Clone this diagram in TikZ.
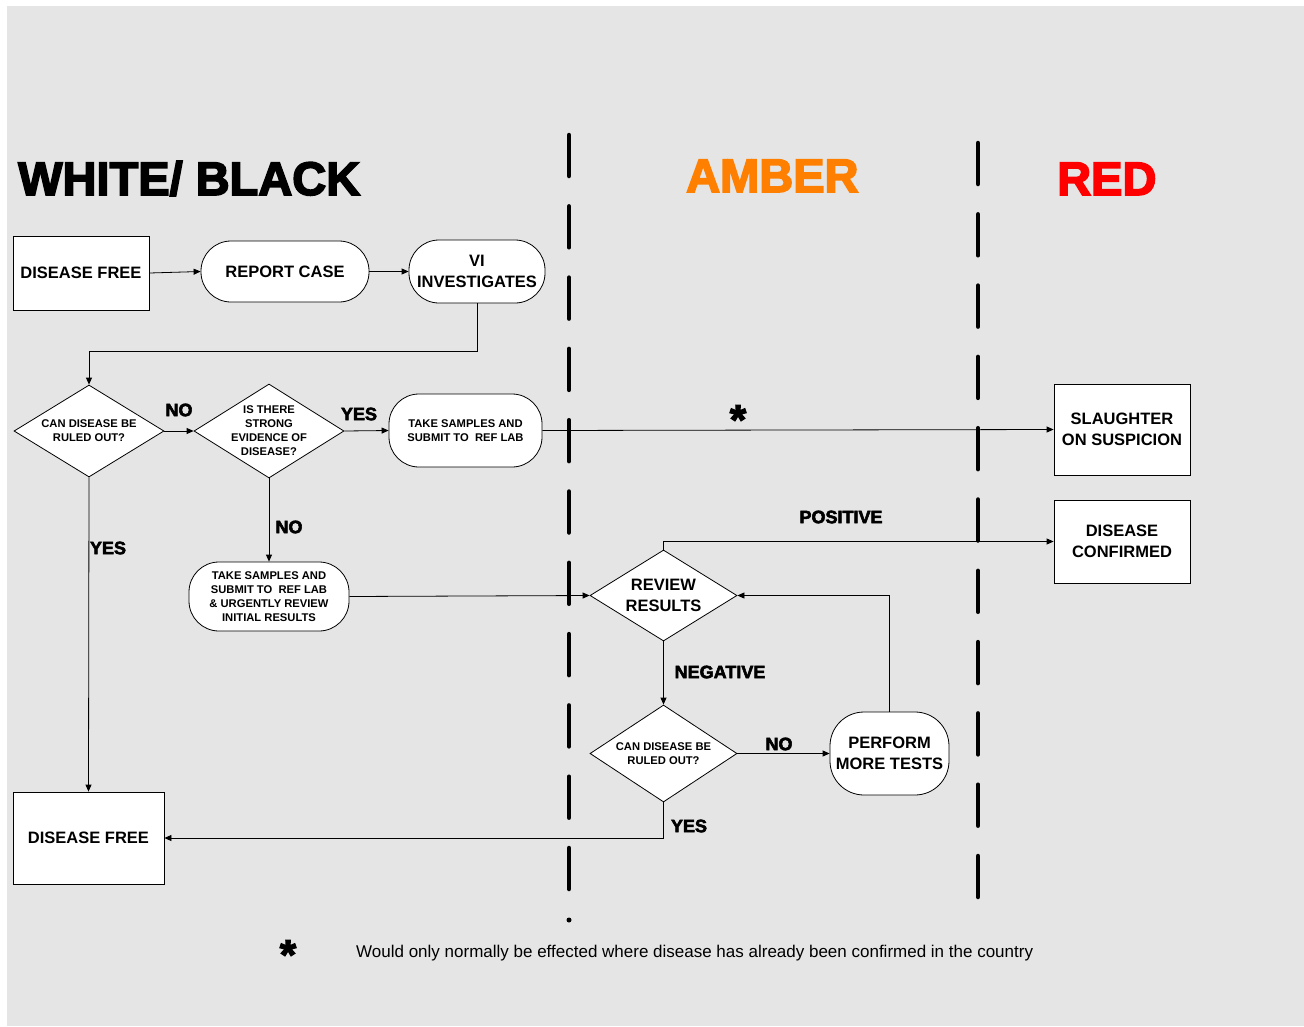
\documentclass[tikz,border=0pt]{standalone}
\usepackage{fontspec}
\setmainfont{Liberation Sans}
\newfontfamily\heavy{Liberation Sans}[BoldFeatures={FakeBold=3}]
\newfontfamily\heavytitle{Liberation Sans}[BoldFeatures={FakeBold=3.5}]
\usetikzlibrary{shapes.geometric,arrows.meta}
\definecolor{bgc}{HTML}{E5E5E5}
\definecolor{ambc}{HTML}{FF8000}
\begin{document}
\begin{tikzpicture}[x=1pt,y=-1pt,
  box/.style={draw, fill=white, line width=0.8pt, inner sep=0pt, align=center,
    font=\bfseries\fontsize{16.5}{21}\selectfont},
  pill/.style={box, rounded corners=30pt},
  dec/.style={draw, fill=white, diamond, inner sep=0pt, line width=0.8pt},
  small/.style={font=\bfseries\fontsize{11.2}{14}\selectfont, align=center, inner sep=0pt},
  big/.style={font=\bfseries\fontsize{16.5}{21}\selectfont, align=center, inner sep=0pt},
  lab/.style={font=\heavy\bfseries\fontsize{18}{20}\selectfont, inner sep=0pt},
  ttl/.style={font=\heavytitle\bfseries\fontsize{47}{50}\selectfont, inner sep=0pt, anchor=base west},
  astk/.style={font=\heavy\bfseries\fontsize{42}{42}\selectfont, inner sep=0pt, anchor=north},
  conn/.style={line width=0.8pt, -{Triangle[length=7pt,width=6pt]}},
  divider/.style={line width=4.5pt, line cap=round, dash pattern=on 41pt off 30.3pt}
]
\useasboundingbox (0,0) rectangle (1304,1026);
\fill[bgc] (7,6) rectangle (1304,1026);

% dividers
\draw[divider] (569,135) -- (569,893);
\fill (569,920) circle (2.5pt);
\draw[divider] (978,143) -- (978,900);

% titles
\node[ttl] (tw) at (18,195) {WHITE/ BLACK};
\node[ttl, text=ambc] (ta) at (686,192) {AMBER};
\node[ttl, text=red] (tr) at (1057,195) {RED};

% nodes
\node[box, minimum width=136pt, minimum height=74pt] (df1) at (81,273) {DISEASE FREE};
\node[pill, minimum width=168pt, minimum height=61pt] (rc) at (285,271.5) {REPORT CASE};
\node[pill, minimum width=136pt, minimum height=63pt] (vi) at (477,271.5) {VI\\INVESTIGATES};
\node[dec, minimum width=150pt, minimum height=92pt,
  label={[small]center:{CAN DISEASE BE\\RULED OUT?}}] (d1) at (89,431) {};
\node[dec, minimum width=150pt, minimum height=94pt,
  label={[small]center:{IS THERE\\STRONG\\EVIDENCE OF\\DISEASE?}}] (d2) at (269,431) {};
\node[pill, font=\bfseries\fontsize{11.2}{14}\selectfont, minimum width=153pt, minimum height=73pt]
  (ts1) at (465.5,430.5) {TAKE SAMPLES AND\\SUBMIT TO\ \ REF LAB};
\node[box, minimum width=136pt, minimum height=91pt] (sl) at (1122,429.5) {SLAUGHTER\\ON SUSPICION};
\node[box, minimum width=136pt, minimum height=83pt] (dc) at (1122,541.5) {DISEASE\\CONFIRMED};
\node[pill, font=\bfseries\fontsize{11.2}{14}\selectfont, minimum width=160pt, minimum height=69pt]
  (ts2) at (269,596.5) {TAKE SAMPLES AND\\SUBMIT TO\ \ REF LAB\\\& URGENTLY REVIEW\\INITIAL RESULTS};
\node[dec, minimum width=147pt, minimum height=91pt,
  label={[big]center:{REVIEW\\RESULTS}}] (rr) at (663.5,595.5) {};
\node[dec, minimum width=147pt, minimum height=97pt,
  label={[small]center:{CAN DISEASE BE\\RULED OUT?}}] (d3) at (663.5,753.5) {};
\node[pill, rounded corners=34pt, minimum width=119pt, minimum height=83pt] (pm) at (889.5,753.5) {PERFORM\\MORE TESTS};
\node[box, minimum width=151pt, minimum height=92pt] (df2) at (88.5,838) {DISEASE FREE};

% connectors
\coordinate (j1) at (89,351);
\draw[conn] (df1.east) -- (rc.west);
\draw[conn] (rc.east) -- (vi.west);
\draw[conn] (vi.south) |- (j1) -- (d1.north);
\draw[conn] (d1.east) -- (d2.west);
\draw[conn] (d2.east) -- (ts1.west);
\draw[conn] (ts1.east) -- (sl.west);
\draw[conn] (d2.south) -- (ts2.north);
\draw[conn] (d1.south) -- (df2.north);
\draw[conn] (ts2.east) -- (rr.west);
\draw[conn] (rr.north) |- (dc.west);
\draw[conn] (rr.south) -- (d3.north);
\draw[conn] (d3.east) -- (pm.west);
\draw[conn] (pm.north) |- (rr.east);
\draw[conn] (d3.south) |- (df2.east);

% labels
\node[lab] (l1) at (179,410) {NO};
\node[lab] (l2) at (359,414) {YES};
\node[lab] (l3) at (289,527) {NO};
\node[lab] (l4) at (108,548) {YES};
\node[lab] (l5) at (841,517) {POSITIVE};
\node[lab] (l6) at (720,672) {NEGATIVE};
\node[lab] (l7) at (779,744) {NO};
\node[lab] (l8) at (689,826) {YES};

\node[astk] (s1) at (738,405) {*};
\node[astk] (s2) at (288,940) {*};
\node[font=\fontsize{17}{20}\selectfont, inner sep=0pt, anchor=base west] (fn) at (356,957)
  {Would only normally be effected where disease has already been confirmed in the country};
\end{tikzpicture}
\end{document}
